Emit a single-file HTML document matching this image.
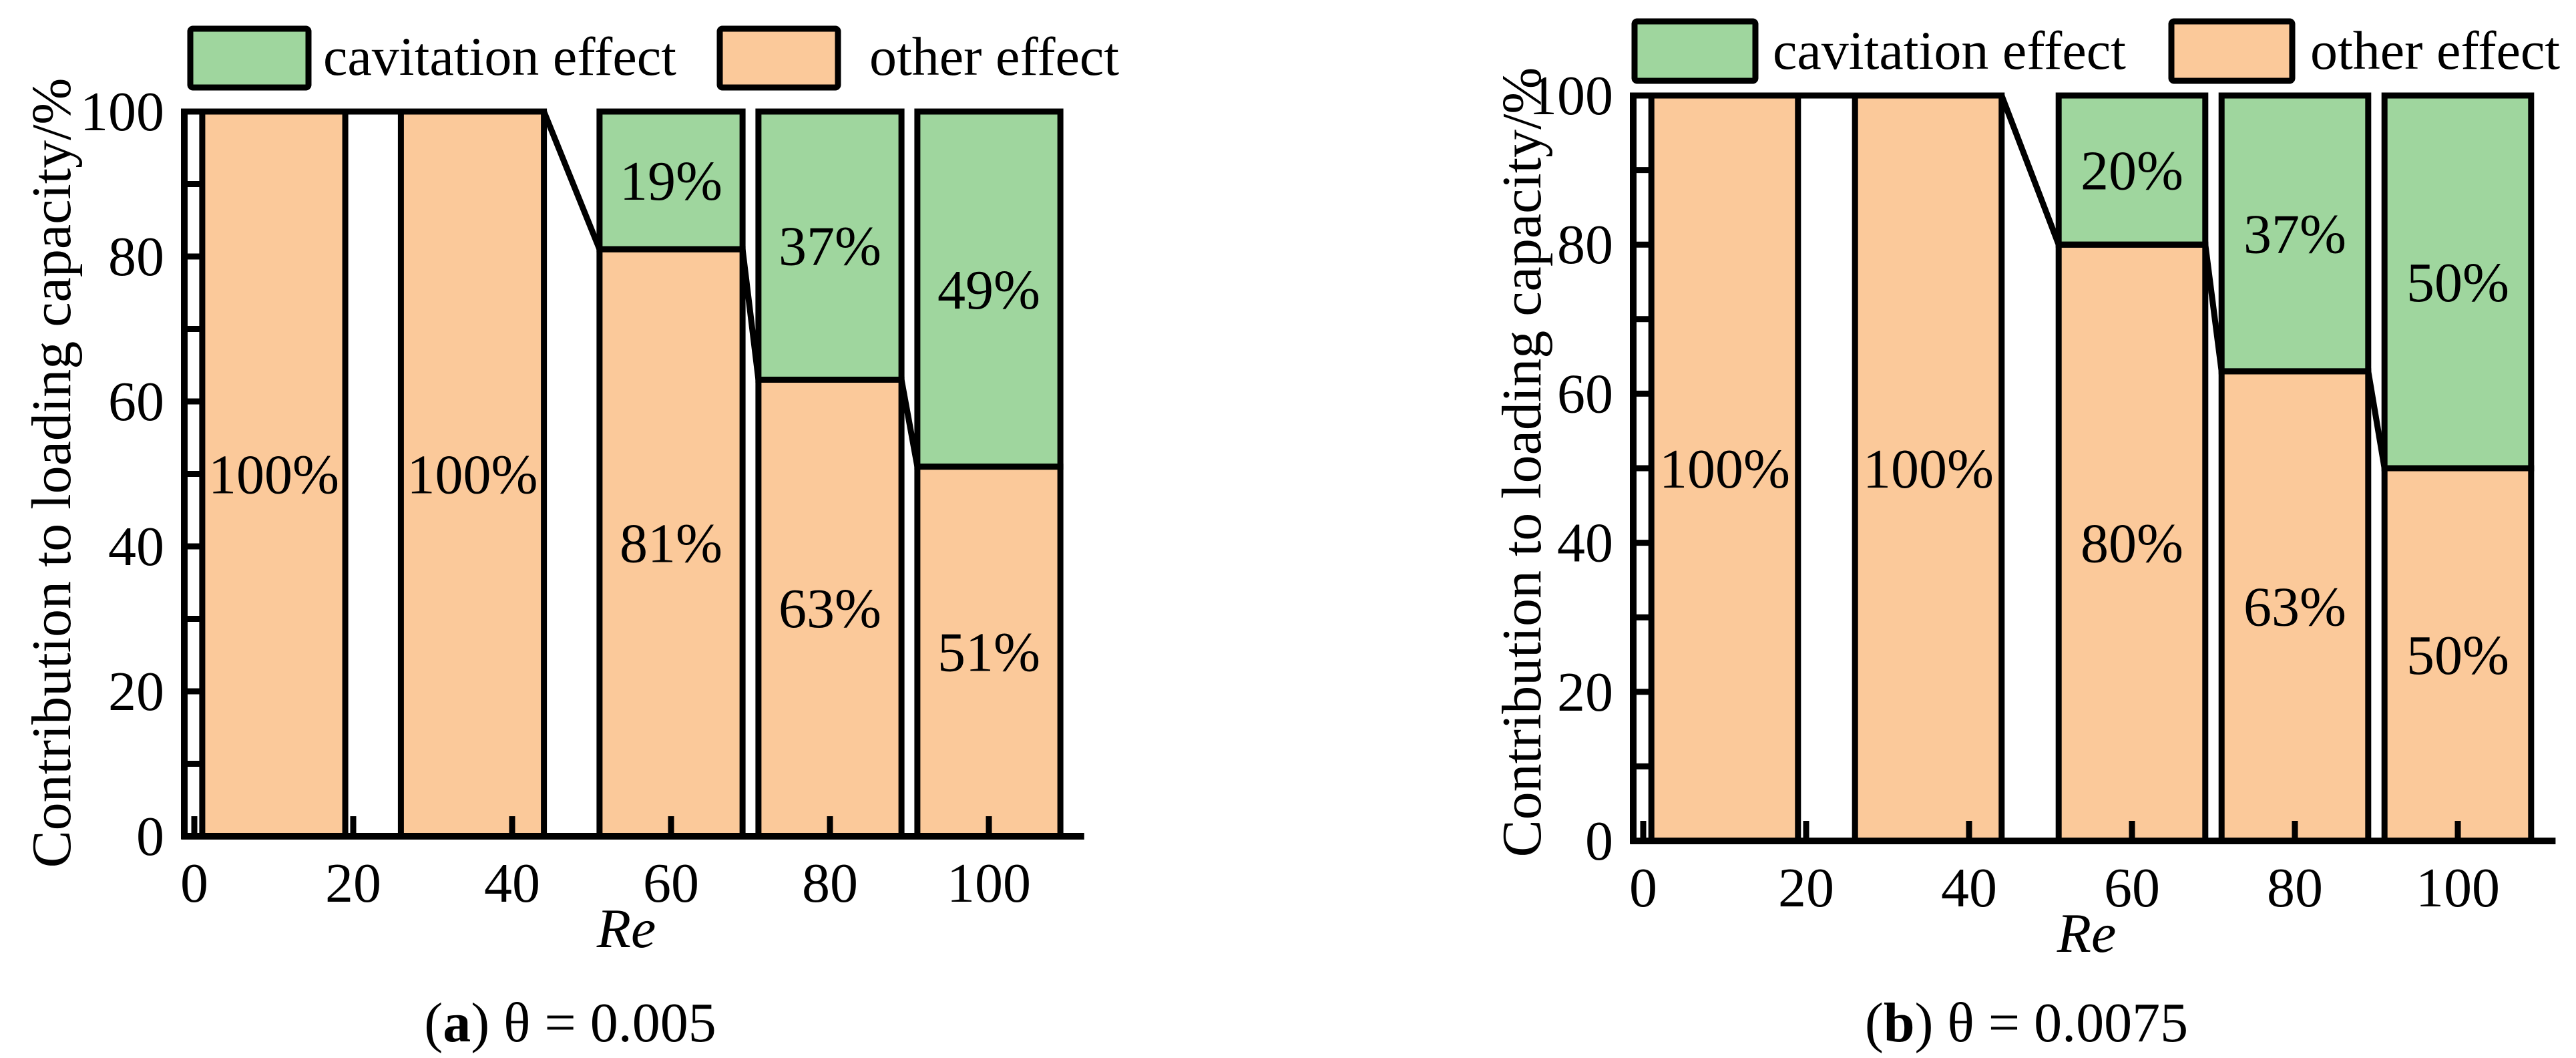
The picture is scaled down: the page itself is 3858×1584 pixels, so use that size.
<!DOCTYPE html>
<html><head><meta charset="utf-8">
<style>
html,body{margin:0;padding:0;background:#fff;}
svg{display:block;}
svg, text, tspan{font-family:"Liberation Serif","DejaVu Serif",serif;fill:#000;}
</style></head>
<body>
<svg id="chart" width="3858" height="1584" viewBox="0 0 3858 1584" xmlns="http://www.w3.org/2000/svg" font-family="'Liberation Serif', 'DejaVu Serif', serif"></svg>
<script>
// ---- data ----
const reCenters = [10, 35, 60, 80, 100];
const barWidthRe = 18;
const otherA = [100, 100, 81, 63, 51];
const cavA = [0, 0, 19, 37, 49];
const otherB = [100, 100, 80, 63, 50];
const cavB = [0, 0, 20, 37, 50];
const xTickVals = [0, 20, 40, 60, 80, 100];
const yTickVals = [0, 20, 40, 60, 80, 100];
const yMinorVals = [0, 10, 20, 30, 40, 50, 60, 70, 80, 90, 100];

const NS = 'http://www.w3.org/2000/svg';
const svg = document.getElementById('chart');
const ORANGE = '#FBC99A', GREEN = '#9FD69E', SW = 9;
const FF = "'Liberation Serif', 'DejaVu Serif', serif";

function mk(tag, attrs, parent) {
  const e = document.createElementNS(NS, tag);
  for (const k in attrs) e.setAttribute(k, attrs[k]);
  if (tag === 'text') e.setAttribute('font-family', FF);
  (parent || svg).appendChild(e);
  return e;
}

function panel(p) {
  const g = mk('g', {});
  
  
  const X = v => p.x0 + v * p.xs;
  const Y = v => p.y0 - v * (p.y0 - p.y100) / 100;

  const lg1 = mk('rect', {x: p.leg.g1, y: p.leg.y, width: p.leg.w, height: p.leg.h, rx: 4, fill: GREEN, stroke: '#000', 'stroke-width': SW}, g);
  
  
  const lt1 = mk('text', {x: p.leg.t1, y: p.leg.base, 'font-size': 82}, g);
  lt1.textContent = 'cavitation effect';
  
  
  const lg2 = mk('rect', {x: p.leg.g2, y: p.leg.y, width: p.leg.w, height: p.leg.h, rx: 4, fill: ORANGE, stroke: '#000', 'stroke-width': SW}, g);
  
  
  const lt2 = mk('text', {x: p.leg.t2, y: p.leg.base, 'font-size': 82}, g);
  lt2.textContent = 'other effect';
  
  

  for (let i = 0; i < reCenters.length; i++) {
    const l = X(reCenters[i] - barWidthRe / 2), r = X(reCenters[i] + barWidthRe / 2);
    const o = p.other[i], c = p.cav[i];
    const ro = mk('rect', {x: l, y: Y(o), width: r - l, height: Y(0) - Y(o), fill: ORANGE, stroke: '#000', 'stroke-width': SW}, g);
    
    
    if (c > 0) {
      const rc = mk('rect', {x: l, y: Y(o + c), width: r - l, height: Y(o) - Y(o + c), fill: GREEN, stroke: '#000', 'stroke-width': SW}, g);
      
      
      const tc = mk('text', {x: (l + r) / 2, y: Y(o + c / 2) + 29, 'font-size': 84, 'text-anchor': 'middle'}, g);
      tc.textContent = c + '%';
      
      
    }
    const to = mk('text', {x: (l + r) / 2, y: Y(o / 2) + 29, 'font-size': 84, 'text-anchor': 'middle'}, g);
    to.textContent = o + '%';
    
    
  }

  let pts = [[X(-1.3), Y(p.other[0])]];
  for (let i = 0; i < reCenters.length; i++) {
    pts.push([X(reCenters[i] - barWidthRe / 2), Y(p.other[i])]);
    pts.push([X(reCenters[i] + barWidthRe / 2), Y(p.other[i])]);
  }
  const pl = mk('polyline', {points: pts.map(q => q.join(',')).join(' '), fill: 'none', stroke: '#000', 'stroke-width': SW, 'stroke-linejoin': 'miter'}, g);
  
  

  const ax = mk('line', {x1: p.axX - SW / 2, y1: Y(0), x2: X(112), y2: Y(0), stroke: '#000', 'stroke-width': SW + 1}, g);
  
  
  const ay = mk('line', {x1: p.axX, y1: Y(0) + SW / 2, x2: p.axX, y2: Y(100) - SW / 2, stroke: '#000', 'stroke-width': SW + 1}, g);
  
  

  yMinorVals.forEach(v => {
    const t = mk('line', {x1: p.axX, y1: Y(v), x2: p.axX + 28, y2: Y(v), stroke: '#000', 'stroke-width': SW}, g);
    
    
  });
  xTickVals.forEach(v => {
    const t = mk('line', {x1: X(v), y1: Y(0), x2: X(v), y2: Y(0) - 30, stroke: '#000', 'stroke-width': SW}, g);
    
    
    const tl = mk('text', {x: X(v), y: Y(0) + 98, 'font-size': 84, 'text-anchor': 'middle'}, g);
    tl.textContent = v;
    
    
  });
  yTickVals.forEach(v => {
    const tl = mk('text', {x: p.axX - 30, y: Y(v) + 28, 'font-size': 84, 'text-anchor': 'end'}, g);
    tl.textContent = v;
    
    
  });

  const xt = mk('text', {x: p.reX, y: Y(0) + 166, 'font-size': 84, 'font-style': 'italic', 'text-anchor': 'middle'}, g);
  xt.textContent = 'Re';
  
  

  const yt = mk('text', {x: 0, y: 0, 'font-size': 84, 'text-anchor': 'middle', transform: 'translate(' + p.ytX + ',' + p.ytY + ') rotate(-90)'}, g);
  yt.textContent = 'Contribution to loading capacity/%';
  
  

  const cap = mk('text', {x: p.capX, y: 1559, 'font-size': 84, 'text-anchor': 'middle'}, g);
  
  
  const b = mk('tspan', {}, cap); b.textContent = '(';
  const b2 = mk('tspan', {'font-weight': 'bold'}, cap); b2.textContent = p.letter;
  const b3 = mk('tspan', {}, cap); b3.textContent = ') θ = ' + p.theta;
}

panel({name: 'panel-a', x0: 291, xs: 11.9, y0: 1252, y100: 167, axX: 276,
  other: otherA, cav: cavA,
  leg: {g1: 285, g2: 1078, y: 43, w: 177, h: 88, t1: 484, t2: 1302, base: 112},
  reX: 938, ytX: 105, ytY: 708, capX: 854, letter: 'a', theta: '0.005'});
panel({name: 'panel-b', x0: 2461, xs: 12.2, y0: 1259, y100: 143, axX: 2446,
  other: otherB, cav: cavB,
  leg: {g1: 2448, g2: 3252, y: 32, w: 181, h: 89, t1: 2655, t2: 3460, base: 103},
  reX: 3125, ytX: 2307, ytY: 692, capX: 3035, letter: 'b', theta: '0.0075'});
</script>
</body></html>
